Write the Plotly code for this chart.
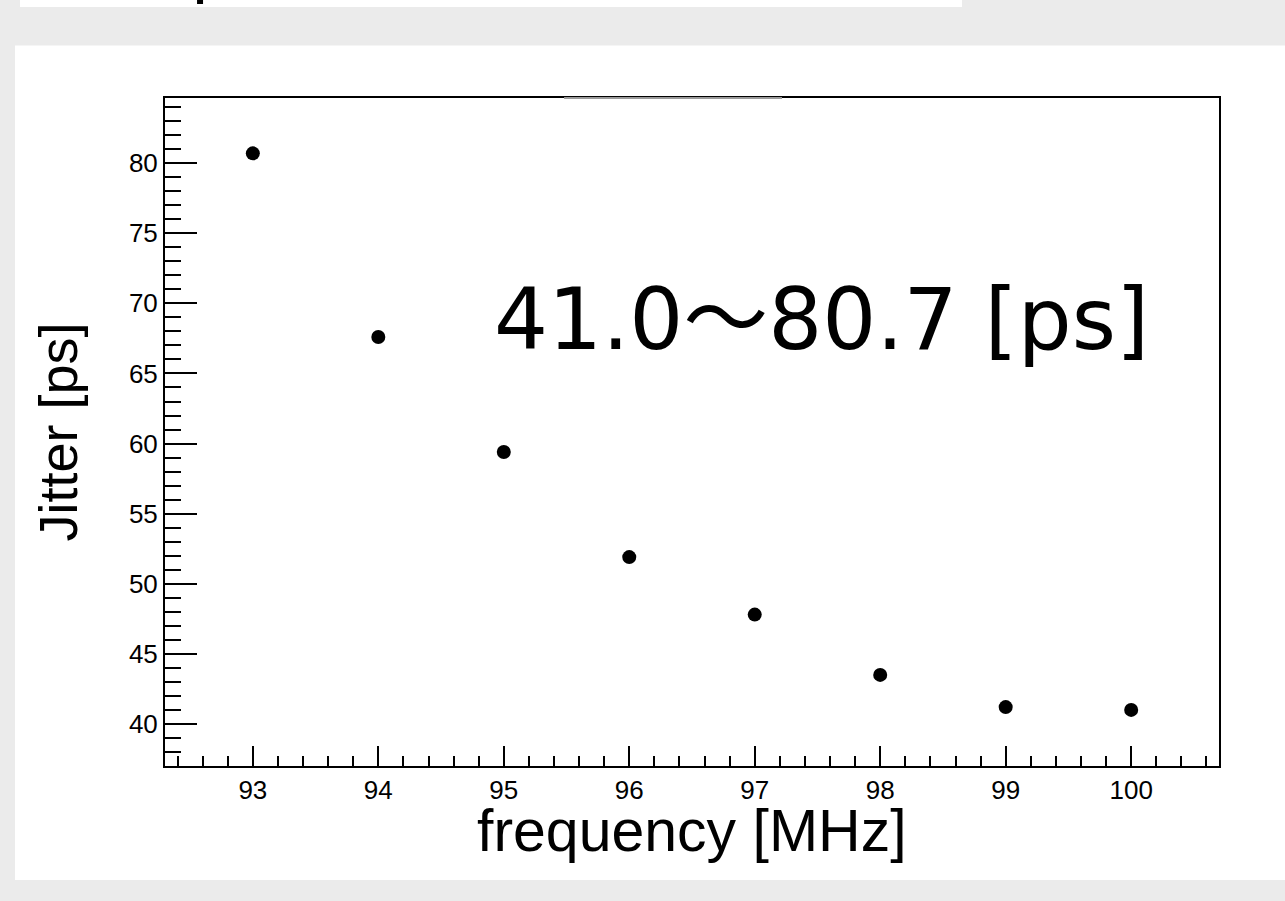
import plotly.graph_objects as go

# data
frequency = [93, 94, 95, 96, 97, 98, 99, 100]
jitter = [80.7, 67.6, 59.4, 51.9, 47.8, 43.5, 41.2, 41.0]
x_ticks = [93, 94, 95, 96, 97, 98, 99, 100]
y_ticks = [40, 45, 50, 55, 60, 65, 70, 75, 80]
range_label = "41.0〜80.7 [ps]"

fig = go.Figure()
fig.add_trace(go.Scatter(
    x=frequency, y=jitter, mode="markers",
    marker=dict(color="black", size=14),
    showlegend=False,
))

sans = "Liberation Sans, Arial, sans-serif"
axis_font = dict(family=sans, size=26, color="black")

fig.update_xaxes(
    range=[92.3, 100.7],
    tickvals=x_ticks,
    ticks="inside", ticklen=20, tickwidth=2, tickcolor="black",
    minor=dict(dtick=0.2, tick0=93, ticks="inside", ticklen=10, tickwidth=2, tickcolor="black"),
    showline=True, linecolor="black", linewidth=2, mirror=True,
    showgrid=False, zeroline=False,
    tickfont=axis_font,
)
fig.update_yaxes(
    range=[37, 84.65],
    tickvals=y_ticks,
    ticks="inside", ticklen=32, tickwidth=2, tickcolor="black",
    minor=dict(dtick=1, tick0=40, ticks="inside", ticklen=16, tickwidth=2, tickcolor="black"),
    showline=True, linecolor="black", linewidth=2, mirror=True,
    showgrid=False, zeroline=False,
    tickfont=axis_font,
    title=dict(text="Jitter [ps]", font=dict(family=sans, size=54, color="black"), standoff=34),
)

# x axis title placed by hand
fig.add_annotation(
    xref="paper", yref="paper", x=0.5, y=-0.097,
    xanchor="center", yanchor="middle",
    text="frequency [MHz]", showarrow=False,
    font=dict(family=sans, size=59, color="black"),
)

# big range label inside the plot
fig.add_annotation(
    xref="paper", yref="paper", x=0.310, y=0.668,
    xanchor="left", yanchor="middle",
    text=range_label, showarrow=False,
    font=dict(family="DejaVu Sans, Noto Sans CJK JP", size=85, color="black"),
)

# grey page with white panels, like the screenshot
fig.add_shape(type="rect", xref="paper", yref="paper",
              x0=-0.1423, x1=1.07, y0=-0.1707, y1=1.0786,
              fillcolor="white", line_width=0, layer="below")
fig.add_shape(type="rect", xref="paper", yref="paper",
              x0=-0.1376, x1=0.7562, y0=1.1362, y1=1.2,
              fillcolor="white", line_width=0, layer="below")
fig.add_shape(type="rect", xref="paper", yref="paper",
              x0=0.0304, x1=0.0361, y0=1.1407, y1=1.2,
              fillcolor="black", line_width=0, layer="below")
# lighter piece of the top frame
fig.add_shape(type="line", xref="paper", yref="paper",
              x0=0.3786, x1=0.5854, y0=1, y1=1,
              line=dict(color="#9a9a9a", width=2), layer="above")

fig.update_layout(
    width=1285, height=901,
    margin=dict(l=165, r=66, t=98, b=135, autoexpand=False),
    paper_bgcolor="#ebebeb",
    plot_bgcolor="white",
)

fig.write_html(
    "out.html",
    config={"displayModeBar": False},
    post_script="document.body.style.margin='0';document.body.style.background='#ebebeb';",
)
